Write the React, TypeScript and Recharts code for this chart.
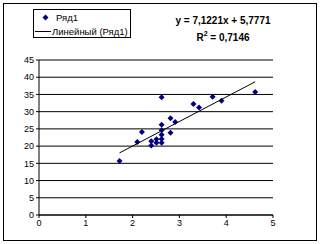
import { ScatterChart, Scatter, XAxis, YAxis, CartesianGrid, Legend } from "recharts"

const xs = [1.72, 2.1, 2.2, 2.4, 2.4, 2.51, 2.51, 2.62, 2.62, 2.62, 2.62, 2.62, 2.62, 2.81, 2.91, 2.81, 3.3, 3.42, 3.71, 3.9, 4.62]
const ys = [15.7, 21.2, 24.1, 20.2, 21.4, 21.0, 22.0, 21.0, 22.1, 23.3, 24.6, 26.2, 34.2, 28.1, 27.0, 23.9, 32.2, 31.2, 34.3, 33.2, 35.7]
const slope = 7.1221
const intercept = 5.7771
const r2 = "0,7146"
const xTicks = [0, 1, 2, 3, 4, 5]
const yTicks = [0, 5, 10, 15, 20, 25, 30, 35, 40, 45]

const points = xs.map((x, i) => ({ x, y: ys[i] }))
const xMin = Math.min(...xs)
const xMax = Math.max(...xs)
const trend = [
  { x: xMin, y: slope * xMin + intercept },
  { x: xMax, y: slope * xMax + intercept },
]

const font = "'Liberation Sans', Arial, sans-serif"
const navy = "#000080"

// small excel-style diamond marker
const Diamond = (props: any) => {
  const { cx, cy } = props
  if (cx == null || cy == null) return null
  const r = 3
  return <polygon points={`${cx},${cy - r} ${cx + r},${cy} ${cx},${cy + r} ${cx - r},${cy}`} fill={navy} />
}

function LegendBox() {
  return (
    <div
      style={{
        position: "absolute",
        left: 33,
        top: 9,
        width: 96,
        height: 27,
        border: "1px solid #000",
        background: "#fff",
        fontFamily: font,
        fontSize: 9.5,
        color: "#000",
        whiteSpace: "nowrap",
      }}
    >
      <div style={{ position: "absolute", left: 8, top: 1, height: 12, display: "flex", alignItems: "center" }}>
        <svg width="7" height="7">
          <polygon points="3.5,0.5 6.5,3.5 3.5,6.5 0.5,3.5" fill={navy} />
        </svg>
        <span style={{ marginLeft: 7 }}>Ряд1</span>
      </div>
      <div style={{ position: "absolute", left: 1, top: 15, height: 12, display: "flex", alignItems: "center" }}>
        <div style={{ width: 16, height: 1, background: "#000" }} />
        <span style={{ marginLeft: 1 }}>Линейный (Ряд1)</span>
      </div>
    </div>
  )
}

export default function App() {
  return (
    <div style={{ position: "absolute", left: 0, top: 0, width: 321, height: 244, background: "#fff" }}>
      <div
        style={{
          position: "absolute",
          left: 3,
          top: 3,
          width: 312,
          height: 236,
          border: "1px solid #000",
        }}
      />
      <ScatterChart
        width={321}
        height={244}
        margin={{ top: 60, right: 48, bottom: 9, left: 9 }}
        style={{ position: "absolute", left: 0, top: 0 }}
      >
        <CartesianGrid horizontal vertical={false} stroke="#000" strokeWidth={1} />
        <XAxis
          type="number"
          dataKey="x"
          domain={[0, 5]}
          ticks={xTicks}
          height={20}
          stroke="#000"
          tickSize={3}
          tick={{ fontSize: 9, fill: "#000", fontFamily: font }}
          tickLine={{ stroke: "#000" }}
          axisLine={{ stroke: "#000" }}
        />
        <YAxis
          type="number"
          dataKey="y"
          domain={[0, 45]}
          ticks={yTicks}
          width={30}
          interval={0}
          tickSize={3}
          tick={{ fontSize: 9, fill: "#000", fontFamily: font }}
          tickLine={{ stroke: "#000" }}
          axisLine={{ stroke: "#000" }}
        />
        <YAxis
          yAxisId="r"
          orientation="right"
          type="number"
          domain={[0, 45]}
          width={0}
          tick={false}
          tickLine={false}
          axisLine={{ stroke: "#000" }}
        />
        <Scatter data={points} fill={navy} shape={Diamond} isAnimationActive={false} />
        <Scatter
          data={trend}
          line={{ stroke: "#000", strokeWidth: 1 }}
          shape={() => null}
          isAnimationActive={false}
        />
        <Legend content={() => null} />
      </ScatterChart>
      <LegendBox />
      <div
        style={{
          position: "absolute",
          left: 170,
          top: 12,
          width: 106,
          textAlign: "center",
          fontFamily: font,
          fontSize: 10,
          fontWeight: "bold",
          lineHeight: "17px",
          color: "#000",
          whiteSpace: "nowrap",
        }}
      >
        <div>y = 7,1221x + 5,7771</div>
        <div>
          R<sup style={{ fontSize: 7, verticalAlign: "top", lineHeight: "10px" }}>2</sup> = {r2}
        </div>
      </div>
    </div>
  )
}
